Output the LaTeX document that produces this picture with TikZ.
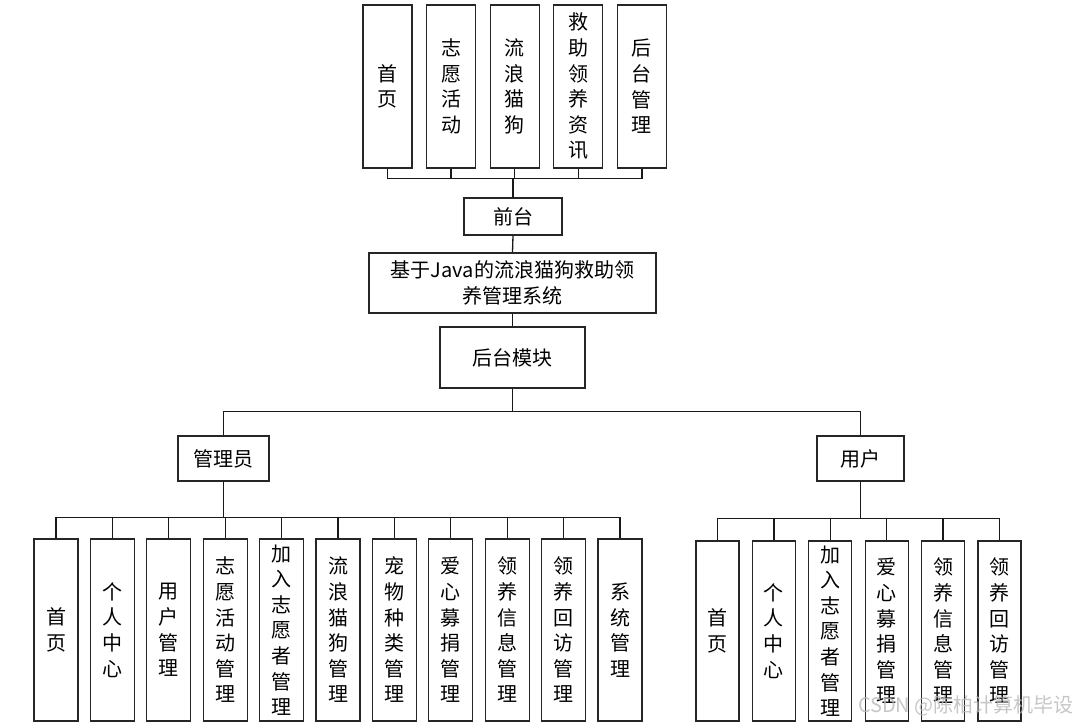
\documentclass[tikz,border=0pt]{standalone}
\usepackage{fontspec}
\newfontfamily\cjk{Noto Sans CJK SC}
\begin{document}
\begin{tikzpicture}[x=1pt,y=-1pt,
  box/.style={draw=black!85,line width=1.3pt,fill=white,inner sep=0pt,align=center,
    font=\cjk\fontsize{20}{25.6}\selectfont},
  conn/.style={draw=black!90,line width=1.3pt},
  thick conn/.style={draw=black!90,line width=1.9pt}]
\useasboundingbox (0,0) rectangle (1077,723);
% top row
\foreach \n/\t [count=\i from 0] in {t1/{首\\页},t2/{志\\愿\\活\\动},t3/{流\\浪\\猫\\狗},t4/{救\\助\\领\\养\\资\\讯},t5/{后\\台\\管\\理}}{
  \node[box,minimum width=49pt,minimum height=163pt] (\n) at ({387.5+63.6*\i},86.5) {\t};
}
\node[box,minimum width=98pt,minimum height=37pt] (qt) at (513,216.5) {前台};
\node[box,minimum width=287pt,minimum height=60pt] (sys) at (512.5,283) {基于Java的流浪猫狗救助领\\养管理系统};
\node[box,minimum width=145pt,minimum height=61pt] (ht) at (512.5,357.5) {后台模块};
\node[box,minimum width=91pt,minimum height=45pt] (adm) at (223.5,458.5) {管理员};
\node[box,minimum width=87pt,minimum height=45pt] (usr) at (860.5,458.5) {用户};
% admin children
\foreach \n/\t [count=\i from 0] in {a1/{首\\页},a2/{个\\人\\中\\心},a3/{用\\户\\管\\理},a4/{志\\愿\\活\\动\\管\\理},a5/{加\\入\\志\\愿\\者\\管\\理},a6/{流\\浪\\猫\\狗\\管\\理},a7/{宠\\物\\种\\类\\管\\理},a8/{爱\\心\\募\\捐\\管\\理},a9/{领\\养\\信\\息\\管\\理},a10/{领\\养\\回\\访\\管\\理},a11/{系\\统\\管\\理}}{
  \node[box,minimum width=44pt,minimum height=182pt] (\n) at ({56+56.4*\i},630) {\t};
}
% user children
\foreach \n/\t [count=\i from 0] in {u1/{首\\页},u2/{个\\人\\中\\心},u3/{加\\入\\志\\愿\\者\\管\\理},u4/{爱\\心\\募\\捐\\管\\理},u5/{领\\养\\信\\息\\管\\理},u6/{领\\养\\回\\访\\管\\理}}{
  \node[box,minimum width=43pt,minimum height=180pt] (\n) at ({717.5+56.4*\i},631) {\t};
}
% connectors top
\foreach \n in {t1,t2,t3,t4,t5}{
  \draw[conn] (qt.north) -- ++(0,-19) -| (\n.south);
}
\draw[conn] (qt.south) -- (sys.north);
\draw[conn] (sys.south) -- (ht.north);
\draw[conn] (ht.south) -- ++(0,23) -| (adm.north);
\draw[conn] (ht.south) -- ++(0,23) -| (usr.north);
\foreach \n in {a1,a2,a3,a4,a5,a6,a7,a8,a9,a10,a11}{
  \draw[conn] (adm.south) -- ++(0,36) -| (\n.north);
}
\draw[thick conn] (adm.south) -- ++(0,36);
\foreach \n in {u1,u2,u3,u4,u5,u6}{
  \draw[conn] (usr.south) -- ++(0,37) -| (\n.north);
}
\draw[thick conn] (usr.south) -- ++(0,37);
% watermark
\node[text=black!28,opacity=0.8,font=\cjk\fontsize{20}{22}\selectfont,anchor=east,inner sep=0pt] (wm) at (1074,706) {CSDN @陈柏计算机毕设};
\end{tikzpicture}
\end{document}
